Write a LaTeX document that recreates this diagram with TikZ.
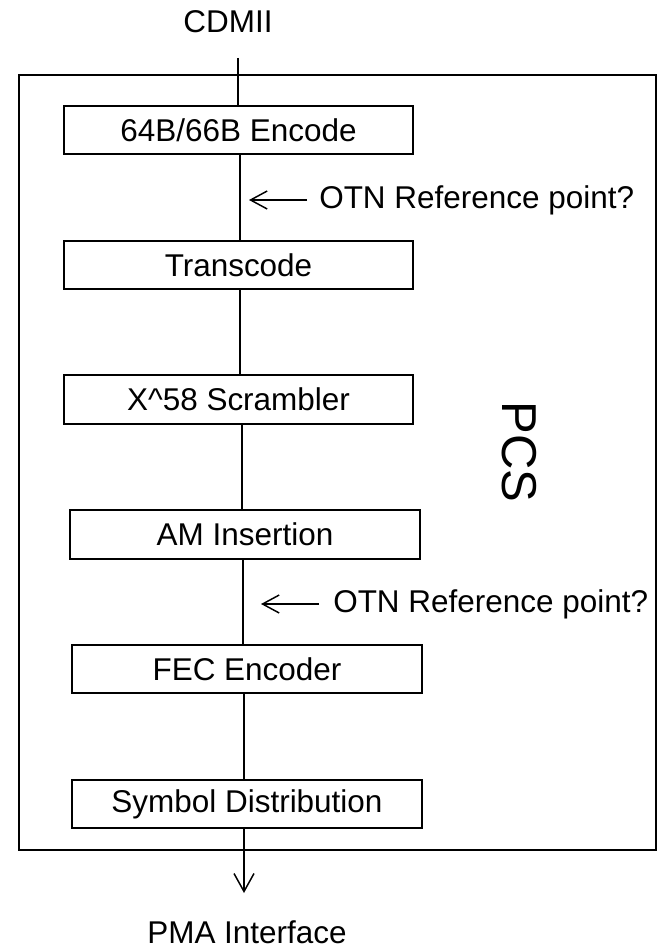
\documentclass[tikz,border=0pt]{standalone}
\usepackage{fontspec}
\setmainfont{Liberation Sans}
\usetikzlibrary{arrows.meta}
\begin{document}
\begin{tikzpicture}[x=0.75pt,y=-0.75pt,
  every node/.style={font=\fontsize{23.6}{28}\selectfont},
  block/.style={draw,line width=1.65pt,minimum width=349*0.75pt,minimum height=48*0.75pt,inner sep=0pt},
  conn/.style={line width=1.2pt},
  otnarrow/.style={line width=1.1pt,-{Straight Barb[length=12.5pt,width=13.5pt,line width=1.1pt]}},
  label/.style={inner sep=0pt,anchor=west}]
\useasboundingbox (0,0) rectangle (658,949);

% PCS sublayer container
\node[draw,line width=1.95pt,minimum width=637*0.75pt,minimum height=775*0.75pt,inner sep=0pt] (pcs) at (337.5,462.5) {};
\node[rotate=-90,font=\fontsize{36.75}{40}\selectfont,inner sep=0pt] (pcslabel) at (519,452) {PCS};

% Interface labels
\node[inner sep=0pt] (cdmii) at (228,22) {CDMII};
\node[inner sep=0pt] (pma) at (247,932) {PMA Interface};
\coordinate (inTop) at (238,58);
\coordinate (outTip) at (244,893);

% Processing blocks
\node[block] (enc) at (238.5,130) {64B/66B Encode};
\node[block] (trans) at (238.5,265) {Transcode};
\node[block,minimum height=49*0.75pt] (scr) at (238.5,399.5) {X\string^58 Scrambler};
\node[block,minimum width=350*0.75pt,minimum height=49*0.75pt] (am) at (245,534.5) {AM Insertion};
\node[block,minimum width=350*0.75pt] (fec) at (247,669) {FEC Encoder};
\node[block,minimum width=350*0.75pt] (sym) at (247,804) {Symbol Distribution};

% Data path
\draw[conn] (inTop) -- (inTop |- enc.north);
\draw[conn] ([xshift=1.5*0.75pt]enc.south) -- ([xshift=1.5*0.75pt]trans.north);
\draw[conn] ([xshift=1.5*0.75pt]trans.south) -- ([xshift=1.5*0.75pt]scr.north);
\draw[conn] ([xshift=3.5*0.75pt]scr.south) -- ([xshift=-3*0.75pt]am.north);
\draw[conn] ([xshift=-2*0.75pt]am.south) -- ([xshift=-4*0.75pt]fec.north);
\draw[conn] ([xshift=-3*0.75pt]fec.south) -- ([xshift=-3*0.75pt]sym.north);
\draw[conn,-{Straight Barb[length=13.5pt,width=15pt,line width=1.1pt]}] ([xshift=-3*0.75pt]sym.south) -- (outTip);

% OTN reference point markers
\node[label] (otn1) at (319,200) {OTN Reference point?};
\node[label] (otn2) at (333,604) {OTN Reference point?};
\draw[otnarrow] ([xshift=-12*0.75pt]otn1.west) -- ++(-58,0) coordinate (otn1tip);
\draw[otnarrow] ([xshift=-14*0.75pt]otn2.west) -- ++(-58,0) coordinate (otn2tip);
\end{tikzpicture}
\end{document}
